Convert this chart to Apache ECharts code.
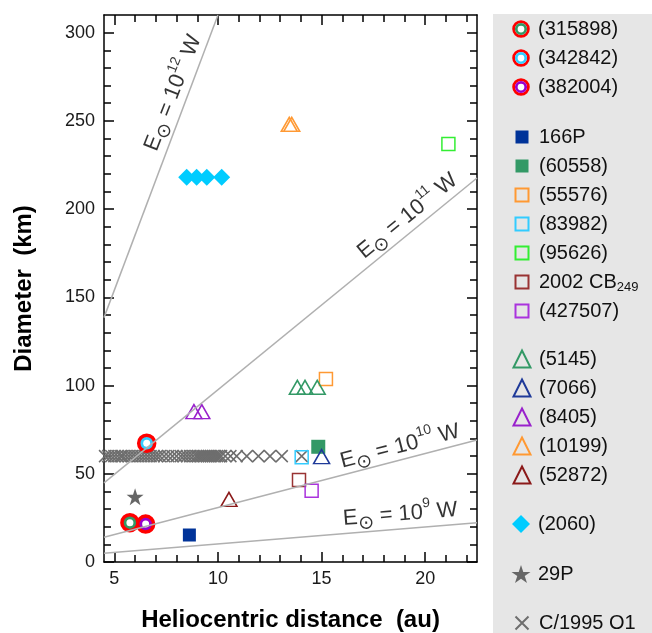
<!DOCTYPE html>
<html>
<head>
<meta charset="utf-8">
<title>Diameter vs heliocentric distance</title>
<script src="https://cdn.jsdelivr.net/npm/echarts@6.0.0/dist/echarts.min.js"></script>
<style>
html, body { margin: 0; padding: 0; background: #fff; }
#ct1 { width: 652px; height: 633px; }
</style>
</head>
<body>
<div id="ct1"></div>
<script>
// axis ranges and tick values
var xMin = 4.5, xMax = 22.5;
var yMin = 0, yMax = 310;
var xMajor = [5, 10, 15, 20];
var xMinor = [6, 7, 8, 9, 11, 12, 13, 14, 16, 17, 18, 19, 21, 22];
var yMajor = [0, 50, 100, 150, 200, 250, 300];
var yMinor = [10, 20, 30, 40, 60, 70, 80, 90, 110, 120, 130, 140, 160, 170, 180, 190,
	210, 220, 230, 240, 260, 270, 280, 290];

// [heliocentric distance (au), diameter (km)]
var d315898 = [[5.75, 22.3]];
var d342842 = [[6.56, 67.3]];
var d382004 = [[6.51, 21.5]];
var d166P = [[8.62, 15.3]];
var d60558 = [[14.84, 65.3]];
var d55576 = [[15.21, 103.7]];
var d83982 = [[14.04, 59.3]];
var d95626 = [[21.12, 236.9]];
var d2002CB = [[13.91, 46.5]];
var d427507 = [[14.52, 40.4]];
var d5145 = [[13.83, 99], [14.2, 99], [14.79, 99]];
var d7066 = [[15.0, 59.7]];
var d8405 = [[8.84, 85.2], [9.22, 85.2]];
var d10199 = [[13.44, 248], [13.56, 248]];
var d52872 = [[10.53, 35.5]];
var d2060 = [[8.49, 218], [8.97, 218], [9.46, 218], [10.18, 218]];
var d29P = [[6.0, 37]];
var hbDist = [4.55, 4.7, 4.85, 5.0, 5.15, 5.3, 5.4, 5.55, 5.7, 5.85, 6.0, 6.15, 6.3, 6.45,
	6.6, 6.75, 6.9, 7.05, 7.2, 7.4, 7.6, 7.8, 8.0, 8.2, 8.35, 8.5, 8.65, 8.8, 8.95, 9.05,
	9.15, 9.25, 9.35, 9.45, 9.55, 9.65, 9.75, 9.85, 9.95, 10.05, 10.15, 10.35, 10.6, 10.9,
	11.39, 11.95, 12.51, 13.08, 14.04];
var hbDiam = 60;

// constant-power lines, end points
var line9 = [[4.5, 4.9], [22.5, 22.2]];
var line10 = [[4.5, 14.0], [22.5, 69.1]];
var line11 = [[4.5, 44.8], [22.5, 217.6]];
var line12 = [[4.5, 138.5], [10.0, 310]];
// label anchors for the lines: [x, y, exponent, angle]
var lineLabels = [[7.83, 265.8, '12', 68.7], [19.15, 196, '11', 39.2],
	[18.79, 65.5, '10', 14.6], [18.8, 27, '9', 4.6]];

var font = 'Liberation Sans, Arial, Helvetica, sans-serif';
var starPath = 'path://M50,0L61.8,35.1L98.9,35.1L69.1,56.7L80.9,91.9L50,70.3L19.1,91.9L30.9,56.7L1.1,35.1L38.2,35.1Z';
var crossPath = 'path://M0,0L10,10M10,0L0,10';

var myChart1;

function filled(name, data, symbol, size, color) {
	return {
		name : name, type : 'scatter', data : data, symbol : symbol, symbolSize : size,
		itemStyle : { color : color, opacity : 1 },
		silent : true, clip : false, emphasis : { disabled : true }
	};
}
function open(name, data, symbol, size, color) {
	return {
		name : name, type : 'scatter', data : data, symbol : symbol, symbolSize : size,
		itemStyle : { color : 'rgba(0,0,0,0)', borderColor : color, borderWidth : 1.5, opacity : 1 },
		silent : true, clip : false, emphasis : { disabled : true }
	};
}
function ring(name, data, color) {
	return {
		name : name, type : 'scatter', data : data, symbol : 'circle', symbolSize : 16,
		itemStyle : { color : color, borderColor : '#ff0000', borderWidth : 3.5, opacity : 1 },
		silent : true, clip : false, emphasis : { disabled : true }
	};
}
function ringCenter(data) {
	return {
		type : 'scatter', data : data, symbol : 'circle', symbolSize : 7,
		itemStyle : { color : '#ffffff', opacity : 1 },
		silent : true, clip : false, emphasis : { disabled : true }
	};
}
// legend icon for the ringed circles (red rim, coloured ring, white centre)
function ringIcon(color) {
	var svg = "<svg xmlns='http://www.w3.org/2000/svg' width='40' height='40'>"
			+ "<circle cx='20' cy='20' r='16.5' fill='white' stroke='#ff0000' stroke-width='6'/>"
			+ "<circle cx='20' cy='20' r='10.5' fill='white' stroke='" + color + "' stroke-width='6'/>"
			+ "</svg>";
	return 'image://data:image/svg+xml;charset=utf-8,' + encodeURIComponent(svg);
}
function powerLine(data) {
	return {
		type : 'line', data : data, symbol : 'none', silent : true, clip : true,
		lineStyle : { color : '#b0b0b0', width : 1.5 }
	};
}

function axis(dim, pos, min, max, ticks, len, major, name) {
	var a = {
		type : 'value', position : pos, min : min, max : max,
		axisLine : { show : major, onZero : false, lineStyle : { color : '#000', width : 1.5 } },
		axisTick : { show : true, inside : true, length : len, customValues : ticks,
			lineStyle : { color : '#000', width : 1.5 } },
		axisLabel : { show : false },
		splitLine : { show : false }
	};
	if (name) {
		a.axisLabel = { show : true, customValues : ticks, fontSize : 18, fontFamily : font,
			color : '#1a1a1a', margin : dim == 'x' ? 8 : 9 };
		a.name = name;
		a.nameLocation = 'middle';
		a.nameGap = dim == 'x' ? 46 : 68;
		a.nameTextStyle = { fontSize : 24, fontWeight : 'bold', fontFamily : font, color : '#000' };
	}
	return a;
}

function legendBlock(names, top, size) {
	return {
		orient : 'vertical', left : 516 - size / 2, top : top,
		itemWidth : size, itemHeight : size, itemGap : 5,
		selectedMode : false, data : names,
		formatter : function(n) {
			return n == '2002 CB249' ? '2002 CB{sub|249}' : n;
		},
		textStyle : {
			fontSize : 20, fontFamily : font, color : '#111', lineHeight : 24,
			padding : [0, 0, 0, Math.max(0, 533 - (516 + size / 2 + 5))],
			rich : { sub : { fontSize : 13, lineHeight : 14, verticalAlign : 'bottom', fontFamily : font, color : '#111' } }
		}
	};
}

var labelData = [];
for (var i = 0; i < lineLabels.length; i++) {
	labelData.push({
		name : lineLabels[i][2],
		value : [lineLabels[i][0], lineLabels[i][1]],
		label : { rotate : lineLabels[i][3] }
	});
}

var hbData = [];
for (var j = 0; j < hbDist.length; j++) {
	hbData.push([hbDist[j], hbDiam]);
}

var option1 = {
	animation : false,
	backgroundColor : '#ffffff',
	grid : { left : 104, right : 175, top : 15, bottom : 71, outerBoundsMode : 'none' },
	graphic : [{
		type : 'rect', left : 493, top : 14, z : -10, silent : true,
		shape : { width : 159, height : 619 },
		style : { fill : '#e6e6e6' }
	}],
	xAxis : [
		axis('x', 'bottom', xMin, xMax, xMajor, 10, true, 'Heliocentric distance  (au)'),
		axis('x', 'bottom', xMin, xMax, xMinor, 7, false),
		axis('x', 'top', xMin, xMax, xMajor, 10, true),
		axis('x', 'top', xMin, xMax, xMinor, 7, false)
	],
	yAxis : [
		axis('y', 'left', yMin, yMax, yMajor, 10, true, 'Diameter  (km)'),
		axis('y', 'left', yMin, yMax, yMinor, 7, false),
		axis('y', 'right', yMin, yMax, yMajor, 10, true),
		axis('y', 'right', yMin, yMax, yMinor, 7, false)
	],
	legend : [
		legendBlock([
			{ name : '(315898)', icon : ringIcon('#339966') },
			{ name : '(342842)', icon : ringIcon('#33ccff') },
			{ name : '(382004)', icon : ringIcon('#9900cc') }
		], 12, 18),
		legendBlock(['166P', '(60558)', '(55576)', '(83982)', '(95626)', '2002 CB249', '(427507)'], 120, 13),
		legendBlock(['(5145)', '(7066)', '(8405)', '(10199)', '(52872)'], 342, 17),
		legendBlock(['(2060)'], 507, 18),
		legendBlock(['29P'], 557, 19),
		legendBlock(['C/1995 O1'], 606, 13)
	],
	series : [
		powerLine(line9),
		powerLine(line10),
		powerLine(line11),
		powerLine(line12),
		{
			type : 'scatter', data : labelData, symbolSize : 0, silent : true, clip : false,
			label : {
				show : true, position : 'inside', color : '#000',
				formatter : function(p) {
					return '{e|E}{s|\u2299}{t| = 10}{u|' + p.name + '}{t| W}';
				},
				rich : {
					e : { fontSize : 22, lineHeight : 32, fontFamily : font, color : '#000' },
					t : { fontSize : 22, lineHeight : 32, fontFamily : font, color : '#000' },
					s : { fontSize : 19, lineHeight : 22, verticalAlign : 'bottom', fontFamily : 'DejaVu Sans', color : '#000' },
					u : { fontSize : 14, lineHeight : 14, verticalAlign : 'top', fontFamily : font, color : '#000' }
				}
			}
		},
		open('C/1995 O1', hbData, crossPath, 12, '#6e6e6e'),
		filled('166P', d166P, 'rect', 13, '#003399'),
		filled('(60558)', d60558, 'rect', 14, '#339966'),
		open('(55576)', d55576, 'rect', 13, '#ff9933'),
		open('(83982)', d83982, 'rect', 13, '#33ccff'),
		open('(95626)', d95626, 'rect', 13, '#33ee33'),
		open('2002 CB249', d2002CB, 'rect', 13, '#993333'),
		open('(427507)', d427507, 'rect', 13, '#aa33dd'),
		open('(5145)', d5145, 'triangle', [16, 14], '#339966'),
		open('(7066)', d7066, 'triangle', [16, 14], '#1f3a99'),
		open('(8405)', d8405, 'triangle', [16, 14], '#9922cc'),
		open('(10199)', d10199, 'triangle', [16, 14], '#ff9933'),
		open('(52872)', d52872, 'triangle', [16, 14], '#8b1a1a'),
		filled('(2060)', d2060, 'diamond', 17, '#00ccff'),
		filled('29P', d29P, starPath, 17, '#666666'),
		ring('(315898)', d315898, '#339966'),
		ring('(342842)', d342842, '#33ccff'),
		ring('(382004)', d382004, '#9900cc'),
		ringCenter(d315898),
		ringCenter(d342842),
		ringCenter(d382004)
	]
};

function initMyChar1() {
	if (myChart1 && myChart1.dispose) {
		myChart1.dispose();
	}
	myChart1 = echarts.init(document.getElementById('ct1'), null, { renderer : 'canvas' });
	myChart1.setOption(option1, true);
}
initMyChar1();
</script>
</body>
</html>
